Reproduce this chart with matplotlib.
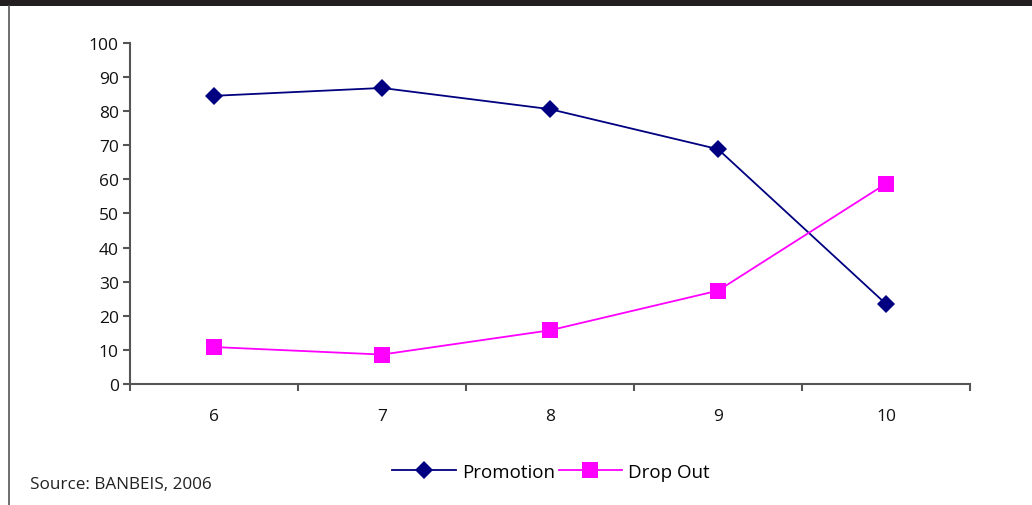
import matplotlib
matplotlib.use("Agg")
import matplotlib.pyplot as plt
from matplotlib.lines import Line2D

grades = [6, 7, 8, 9, 10]
promotion = [84.4, 86.7, 80.5, 68.8, 23.5]
drop_out = [10.9, 8.7, 15.8, 27.4, 58.7]
y_ticks = list(range(0, 101, 10))

plt.rcParams['font.family'] = ['Open Sans', 'DejaVu Sans']

W, H = 1032, 506
fig = plt.figure(figsize=(W / 100, H / 100), dpi=100)
fig.patch.set_facecolor('white')

# top banner and left frame line
fig.add_artist(plt.Rectangle((0, 1 - 7 / H), 1, 7 / H, transform=fig.transFigure,
                             facecolor='#231f20', edgecolor='none'))
fig.add_artist(Line2D([8.5 / W, 8.5 / W], [0, 1 - 7 / H], transform=fig.transFigure,
                      color='#555555', lw=1.2))

ax = fig.add_axes([130 / W, 1 - 385.3 / H, 840 / W, (385.3 - 43.5) / H])
ax.plot(grades, promotion, color='#000080', lw=1.3, marker='D', markersize=8.7,
        markeredgewidth=0, label='Promotion')
ax.plot(grades, drop_out, color='#ff00ff', lw=1.3, marker='s', markersize=12,
        markeredgewidth=0, label='Drop Out')

ax.set_xlim(5.5, 10.5)
ax.set_ylim(0, 100)
ax.set_yticks(y_ticks)
ax.set_yticklabels([str(v) for v in y_ticks], fontsize=12.5, color='#111111')
ax.set_xticks(grades)
ax.set_xticklabels([str(g) for g in grades], fontsize=12.5, color='#111111')
ax.set_xticks([5.5, 6.5, 7.5, 8.5, 9.5, 10.5], minor=True)
ax.tick_params(axis='x', which='major', length=0, pad=17)
ax.tick_params(axis='x', which='minor', length=5, width=1.5, color='#555555', direction='out')
ax.tick_params(axis='y', length=5, width=1.5, color='#555555', direction='out', pad=3)

for side in ('top', 'right'):
    ax.spines[side].set_visible(False)
for side in ('left', 'bottom'):
    ax.spines[side].set_color('#555555')
    ax.spines[side].set_linewidth(1.5)

leg = fig.legend(loc='center', bbox_to_anchor=(551 / W, 1 - 473 / H), ncol=2,
                 frameon=False, fontsize=13.5, handlelength=3.4, handletextpad=0.3,
                 columnspacing=0.2, numpoints=1)

fig.text(30 / W, 1 - 485 / H, 'Source: BANBEIS, 2006', fontsize=12.3, color='#222222',
         va='center', ha='left')

fig.savefig('out.png', dpi=100)
